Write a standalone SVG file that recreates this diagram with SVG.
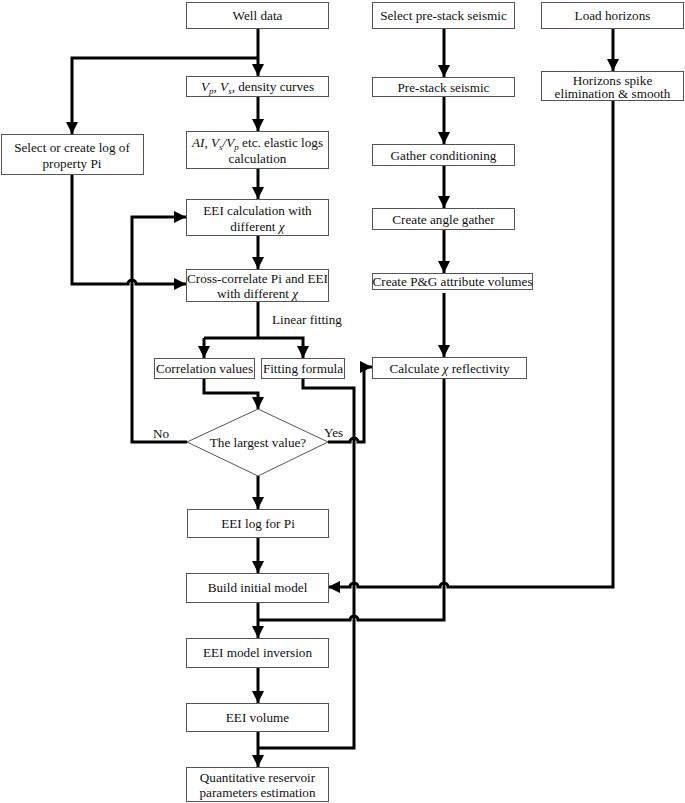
<svg xmlns="http://www.w3.org/2000/svg" width="685" height="803" viewBox="0 0 685 803">
<style>
.box{fill:#fff;stroke:#555;stroke-width:1}
.t{font-family:"Liberation Serif","Times New Roman",serif;font-size:13.2px;fill:#111;text-anchor:middle}
.tl{font-family:"Liberation Serif","Times New Roman",serif;font-size:13.2px;fill:#111}
.i{font-style:italic}
.sub{font-size:9px;font-style:italic}
.c{fill:none;stroke:#000;stroke-width:3}
.ca{fill:none;stroke:#000;stroke-width:3;marker-end:url(#ah)}
</style>
<defs>
<marker id="ah" viewBox="0 0 10 10" refX="10" refY="5" markerWidth="4" markerHeight="4" orient="auto" markerUnits="strokeWidth">
<path d="M0,0 L10,5 L0,10 Z" fill="#000"/>
</marker>
</defs>
<rect width="685" height="803" fill="#fff"/>

<g id="connectors">
<!-- well data column -->
<path class="ca" d="M258,28 V76"/>
<path class="ca" d="M258,58 H72 V134"/>
<path class="ca" d="M258,96 V131"/>
<path class="ca" d="M258,168 V199"/>
<path class="ca" d="M258,235 V269"/>
<path class="c" d="M258,301 V338"/>
<path class="ca" d="M204,338 H303 V358"/>
<path class="ca" d="M204,338 V358"/>
<!-- select log -> cross-correlate with hop -->
<path class="ca" d="M72,174 V284 H128 a4,4 0 0 1 8,0 H186"/>
<!-- No loop -->
<path class="ca" d="M187,442 H132 V217 H186"/>
<!-- correlation values -> diamond -->
<path class="ca" d="M204,378 V393 H258 V409"/>
<!-- fitting formula -> quantitative -->
<path class="c" d="M303,378 V388 H354 V748 H258"/>
<!-- Yes -> calculate chi -->
<path class="ca" d="M328,442 H350 a4,4 0 0 1 8,0 H364 V367 H372"/>
<!-- main lower column -->
<path class="ca" d="M258,476 V509"/>
<path class="ca" d="M258,537 V573"/>
<path class="ca" d="M258,602 V638"/>
<path class="ca" d="M258,667 V703"/>
<path class="ca" d="M258,731 V767"/>
<!-- seismic column -->
<path class="ca" d="M444,28 V77"/>
<path class="ca" d="M444,96 V144"/>
<path class="ca" d="M444,165 V208"/>
<path class="ca" d="M444,229 V273"/>
<path class="ca" d="M444,293 V357"/>
<!-- calc chi -> inversion with hop -->
<path class="c" d="M444,378 V620 H358 a4,4 0 0 0 -8,0 H258"/>
<!-- horizons -->
<path class="ca" d="M613,28 V71"/>
<path class="ca" d="M613,100 V587 H448 a4,4 0 0 0 -8,0 H358 a4,4 0 0 0 -8,0 H328"/>
</g>

<g id="well-data"><rect class="box" x="186.5" y="2.5" width="142" height="26"/><text class="t" x="257.5" y="20">Well data</text></g>
<g id="vp-vs-density"><rect class="box" x="186.5" y="76.5" width="142" height="20"/><text class="t" x="257.5" y="91"><tspan class="i">V</tspan><tspan class="sub" dy="3">p</tspan><tspan dy="-3">, </tspan><tspan class="i">V</tspan><tspan class="sub" dy="3">s</tspan><tspan dy="-3">, density curves</tspan></text></g>
<g id="elastic-logs"><rect class="box" x="186.5" y="131.5" width="142" height="37"/><text class="t" x="257.5" y="147"><tspan class="i">AI</tspan>, <tspan class="i">V</tspan><tspan class="sub" dy="3">s</tspan><tspan dy="-3" class="i">/V</tspan><tspan class="sub" dy="3">p</tspan><tspan dy="-3"> etc. elastic logs</tspan></text><text class="t" x="257.5" y="162.5">calculation</text></g>
<g id="select-log"><rect class="box" x="1.5" y="134.5" width="142" height="40"/><text class="t" x="72" y="151.5">Select or create log of</text><text class="t" x="72" y="167.5">property Pi</text></g>
<g id="eei-calc"><rect class="box" x="186.5" y="199.5" width="142" height="36"/><text class="t" x="257.5" y="214.5">EEI calculation with</text><text class="t" x="257.5" y="230.5">different <tspan class="i">χ</tspan></text></g>
<g id="cross-correlate"><rect class="box" x="186.5" y="269.5" width="142" height="32"/><text class="t" x="257.5" y="282.5">Cross-correlate Pi and EEI</text><text class="t" x="257.5" y="297.5">with different <tspan class="i">χ</tspan></text></g>
<g id="linear-fitting-label"><text class="tl" x="272" y="324">Linear fitting</text></g>
<g id="correlation-values"><rect class="box" x="154.5" y="358.5" width="100" height="20"/><text class="t" x="204.5" y="373">Correlation values</text></g>
<g id="fitting-formula"><rect class="box" x="261.5" y="358.5" width="83" height="20"/><text class="t" x="303" y="373">Fitting formula</text></g>
<g id="largest-value"><polygon points="258,409 328,442 258,476 187,442" fill="#fff" stroke="#555" stroke-width="1"/><text class="t" x="258" y="447">The largest value?</text><text class="tl" x="153" y="438">No</text><text class="tl" x="324" y="437">Yes</text></g>
<g id="eei-log"><rect class="box" x="187.5" y="509.5" width="141" height="28"/><text class="t" x="258" y="528">EEI log for Pi</text></g>
<g id="initial-model"><rect class="box" x="186.5" y="573.5" width="142" height="29"/><text class="t" x="257.5" y="592">Build initial model</text></g>
<g id="model-inversion"><rect class="box" x="186.5" y="638.5" width="142" height="29"/><text class="t" x="257.5" y="657">EEI model inversion</text></g>
<g id="eei-volume"><rect class="box" x="186.5" y="703.5" width="142" height="28"/><text class="t" x="257.5" y="722">EEI volume</text></g>
<g id="quantitative"><rect class="box" x="186.5" y="767.5" width="142" height="34"/><text class="t" x="257.5" y="781.5">Quantitative reservoir</text><text class="t" x="257.5" y="797">parameters estimation</text></g>

<g id="select-prestack"><rect class="box" x="372.5" y="2.5" width="142" height="26"/><text class="t" x="443.5" y="20">Select pre-stack seismic</text></g>
<g id="prestack"><rect class="box" x="372.5" y="77.5" width="142" height="19"/><text class="t" x="443.5" y="91.5">Pre-stack seismic</text></g>
<g id="gather-conditioning"><rect class="box" x="372.5" y="144.5" width="142" height="21"/><text class="t" x="443.5" y="159.5">Gather conditioning</text></g>
<g id="angle-gather"><rect class="box" x="372.5" y="208.5" width="142" height="21"/><text class="t" x="443.5" y="223.5">Create angle gather</text></g>
<g id="pg-volumes"><rect class="box" x="372.5" y="273.5" width="160" height="16"/><text class="t" x="452.5" y="286">Create P&amp;G attribute volumes</text></g>
<g id="chi-reflectivity"><rect class="box" x="372.5" y="357.5" width="154" height="21"/><text class="t" x="449.5" y="372.5">Calculate <tspan class="i">χ</tspan> reflectivity</text></g>

<g id="load-horizons"><rect class="box" x="541.5" y="2.5" width="142" height="26"/><text class="t" x="612.5" y="20">Load horizons</text></g>
<g id="horizons-smooth"><rect class="box" x="541.5" y="71.5" width="142" height="29"/><text class="t" x="612.5" y="84.5">Horizons spike</text><text class="t" x="612.5" y="98">elimination &amp; smooth</text></g>
</svg>
